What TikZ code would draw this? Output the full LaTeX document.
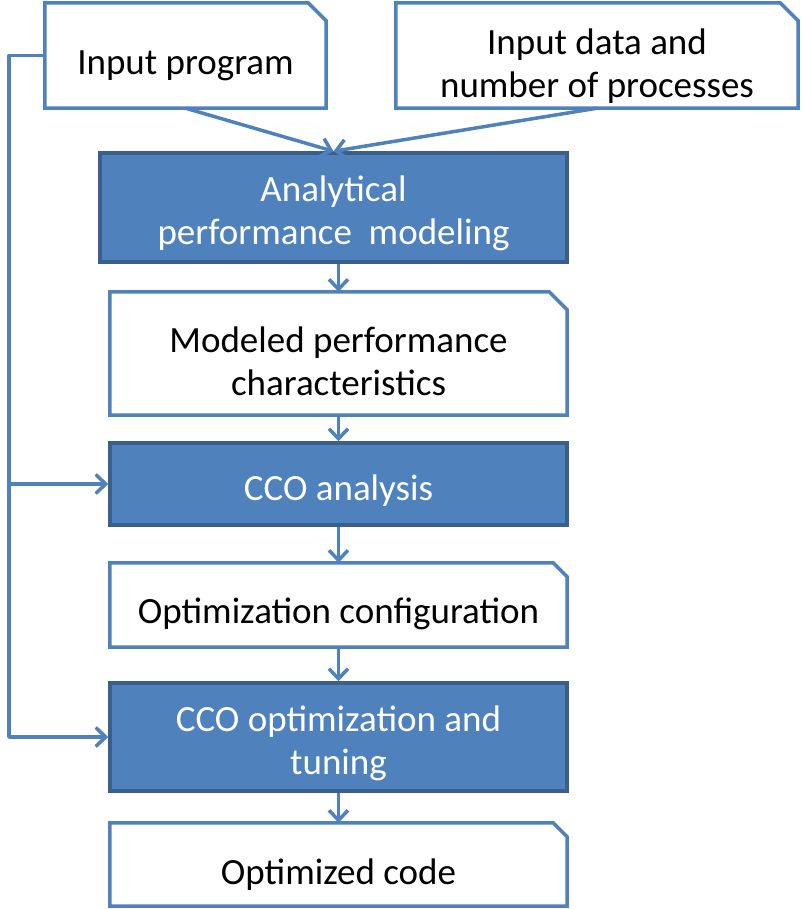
\documentclass[tikz,border=0pt]{standalone}
\usepackage{fontspec}
\setmainfont{Carlito}
\usetikzlibrary{arrows.meta}
\definecolor{boxblue}{HTML}{4F81BD}
\definecolor{boxedge}{HTML}{3A5F8C}
\newcommand{\liftline}[1]{\rule{0pt}{#1}}
\tikzset{
  stage/.style={fill=boxblue, draw=boxedge, line width=3.5pt, text=white, align=center,
    inner sep=0pt, font=\fontsize{37}{43}\selectfont},
  doc/.style={fill=white, text=black, align=center, inner sep=0pt,
    font=\fontsize{37}{43}\selectfont},
  docline/.style={draw=boxblue, line width=3.5pt, line join=miter},
  flow/.style={draw=boxblue, line width=3.5pt, line join=round,
    -{Straight Barb[length=10pt,width=19pt,line width=3.5pt]}}
}
\begin{document}
\begin{tikzpicture}[x=1pt, y=-1pt]
\useasboundingbox (0,0) rectangle (801,909);

% inputs
\node[doc, minimum width=281pt, minimum height=105pt] (prog) at (185.5,55.5) {\liftline{45pt}Input program};
\node[doc, minimum width=402pt, minimum height=105pt] (data) at (597,55.5) {\liftline{46pt}Input data and\\number of processes};

% main chain
\node[stage, minimum width=467pt, minimum height=109pt] (model) at (333.5,207.5) {\liftline{38pt}Analytical\\performance~ modeling};
\node[doc, minimum width=457pt, minimum height=123pt] (perf) at (338.5,353.5) {\liftline{42pt}Modeled performance\\characteristics};
\node[stage, minimum width=457pt, minimum height=82pt] (cco) at (338.5,484) {\liftline{38pt}CCO analysis};
\node[doc, minimum width=457pt, minimum height=84pt] (config) at (338.5,605) {\liftline{44pt}Optimization configuration};
\node[stage, minimum width=457pt, minimum height=108pt] (tune) at (338.5,737) {\liftline{38pt}CCO optimization and\\tuning};
\node[doc, minimum width=457pt, minimum height=83pt] (code) at (338.5,864.5) {\liftline{45pt}Optimized code};

% snipped outlines
\foreach \n/\c in {prog/18, data/18, perf/18, config/14, code/14}
  \draw[docline] (\n.south west) -- (\n.north west) -- ([xshift=-\c pt]\n.north east)
    -- ([yshift=-\c pt]\n.north east) -- (\n.south east) -- cycle;

% connectors
\draw[flow] (prog.south) -- (model.north);
\draw[flow] (data.south) -- (model.north);
\draw[flow] (perf.north |- model.south) -- (perf.north);
\draw[flow] (perf.south) -- (cco.north);
\draw[flow] (cco.south) -- (config.north);
\draw[flow] (config.south) -- (tune.north);
\draw[flow] (tune.south) -- (code.north);

% feedback from the input program
\coordinate (bus) at (9,0);
\draw[flow] (prog.west) -| (bus |- tune.west) -- (tune.west);
\draw[flow] (bus |- cco.west) -- (cco.west);

\end{tikzpicture}
\end{document}
